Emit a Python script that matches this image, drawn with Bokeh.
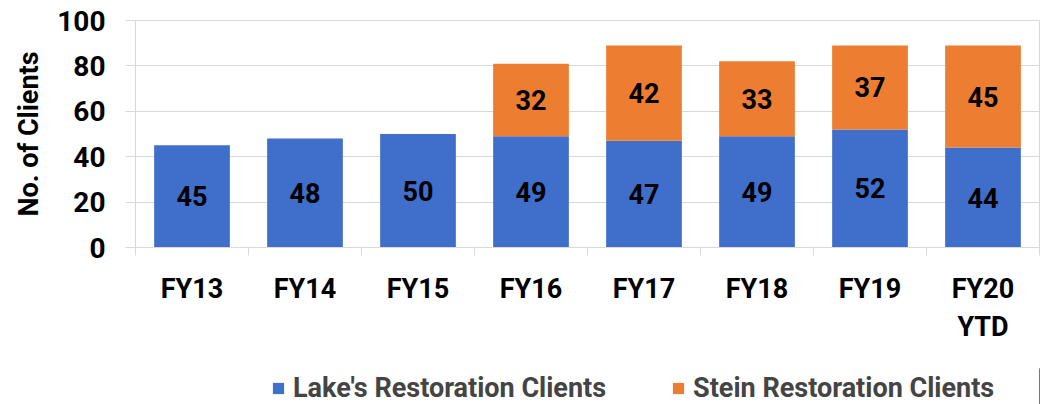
from bokeh.plotting import figure
from bokeh.layouts import column
from bokeh.models import ColumnDataSource, FixedTicker, Legend, LegendItem, Range1d
from bokeh.embed import file_html
from bokeh.resources import INLINE
from bokeh.core.properties import value

categories = ["FY13", "FY14", "FY15", "FY16", "FY17", "FY18", "FY19", "FY20\nYTD"]
lake = [45, 48, 50, 49, 47, 49, 52, 44]
stein = [0, 0, 0, 32, 42, 33, 37, 45]
y_ticks = [0, 20, 40, 60, 80, 100]
series_names = ["Lake's Restoration Clients", "Stein Restoration Clients"]

FONT = "Roboto"
BLUE = "#3f6ecb"
ORANGE = "#ed7d31"
GRID = "#d9d9d9"

x = list(range(len(categories)))
src = ColumnDataSource(dict(
    x=x, lake=lake, stein=stein,
    lake_mid=[v / 2 for v in lake],
    stein_mid=[l + s / 2 for l, s in zip(lake, stein)],
    lake_lbl=[str(v) for v in lake],
    stein_lbl=[str(v) if v else "" for v in stein],
))

p = figure(width=1041, height=368, output_backend="svg", toolbar_location=None,
           x_range=Range1d(-0.5, len(categories) - 0.5), y_range=Range1d(0, 100),
           min_border_left=135, min_border_right=2, min_border_top=20, min_border_bottom=121)

rs = p.vbar_stack(["lake", "stein"], x="x", width=0.67, color=[BLUE, ORANGE], line_color=None, source=src)

for ycol, tcol in (("lake_mid", "lake_lbl"), ("stein_mid", "stein_lbl")):
    p.text(x="x", y=ycol, text=tcol, source=src, text_align="center", text_baseline="middle",
           text_font=value(FONT), text_font_style="bold", text_font_size="27px", text_color="black")

p.outline_line_color = GRID
p.xgrid.visible = False
p.ygrid.ticker = FixedTicker(ticks=y_ticks)
p.ygrid.grid_line_color = GRID

p.yaxis.ticker = FixedTicker(ticks=y_ticks)
p.yaxis.axis_line_color = GRID
p.yaxis.major_tick_line_color = GRID
p.yaxis.major_tick_out = 10
p.yaxis.major_tick_in = 0
p.yaxis.minor_tick_line_color = None
p.yaxis.major_label_text_font = FONT
p.yaxis.major_label_text_font_style = "bold"
p.yaxis.major_label_text_font_size = "28px"
p.yaxis.major_label_text_color = "black"
p.yaxis.major_label_standoff = 20
p.yaxis.axis_label = "No. of Clients"
p.yaxis.axis_label_text_font = FONT
p.yaxis.axis_label_text_font_style = "bold"
p.yaxis.axis_label_text_font_size = "27px"
p.yaxis.axis_label_text_color = "black"
p.yaxis.axis_label_standoff = 9

p.xaxis.ticker = FixedTicker(ticks=x, minor_ticks=[i - 0.5 for i in range(len(categories) + 1)])
p.xaxis.major_label_overrides = {i: c for i, c in zip(x, categories)}
p.xaxis.axis_line_color = GRID
p.xaxis.major_tick_line_color = None
p.xaxis.major_tick_out = 0
p.xaxis.major_tick_in = 0
p.xaxis.minor_tick_line_color = GRID
p.xaxis.minor_tick_out = 8
p.xaxis.minor_tick_in = 0
p.xaxis.major_label_text_font = FONT
p.xaxis.major_label_text_font_style = "bold"
p.xaxis.major_label_text_font_size = "27px"
p.xaxis.major_label_text_color = "black"
p.xaxis.major_label_standoff = 17

# Legend strip below the chart (its own small figure, bars out of view)
p2 = figure(width=1041, height=36, output_backend="svg", toolbar_location=None,
            x_axis_type=None, y_axis_type=None,
            x_range=Range1d(-100, -99), y_range=Range1d(0, 1),
            min_border=0, outline_line_color=None)
rs2 = p2.vbar_stack(["lake", "stein"], x="x", width=0.67, color=[BLUE, ORANGE], line_color=None, source=src)

legend = Legend(items=[LegendItem(label=n, renderers=[r]) for n, r in zip(series_names, rs2)],
                orientation="horizontal", location=(136, 0), spacing=65, glyph_width=14, glyph_height=14,
                label_text_font=FONT, label_text_font_style="bold", label_text_font_size="27px",
                label_standoff=8, border_line_color=None, background_fill_alpha=0, padding=2, margin=0)
p2.add_layout(legend, "center")

layout = column(p, p2, spacing=0)
open("out.html", "w").write(file_html(layout, INLINE))
